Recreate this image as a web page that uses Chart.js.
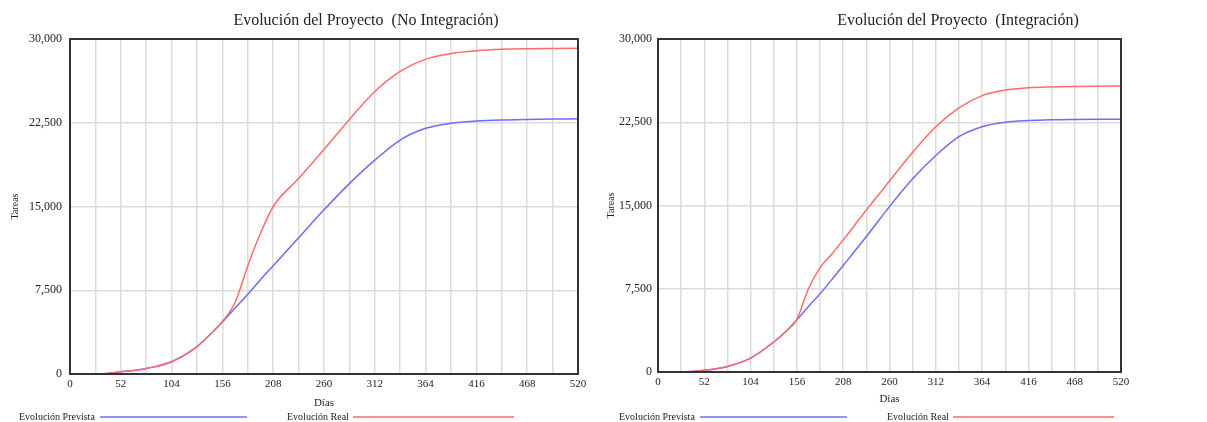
<!DOCTYPE html>
<html>
<head>
<meta charset="utf-8">
<script src="https://cdn.jsdelivr.net/npm/chart.js@4/dist/chart.umd.min.js"></script>
<style>
	body { margin: 0; background: #fff; }
	.box { position: absolute; top: 0; height: 422px; }
	#left { left: 0; width: 600px; }
	#right { left: 600px; width: 607px; }
</style>
</head>
<body>
<div class="box" id="left"><canvas id="chartLeft"></canvas></div>
<div class="box" id="right"><canvas id="chartRight"></canvas></div>
<script>
// días de simulación (eje x)
const days = [0, 26, 52, 78, 104, 130, 143, 156, 169, 182, 195, 208, 234, 260, 286, 312, 338, 364, 390, 416, 442, 468, 494, 520];

// No Integración
const previstaNoInt = [0, 0, 200, 500, 1100, 2450, 3500, 4650, 5900, 7150, 8450, 9700, 12200, 14700, 17050, 19150, 20950, 22000, 22450, 22650, 22750, 22800, 22830, 22850];
const realNoInt = [0, 0, 200, 500, 1100, 2450, 3500, 4700, 6400, 9700, 12600, 15000, 17500, 20100, 22800, 25300, 27100, 28200, 28700, 28950, 29080, 29130, 29150, 29170];

// Integración
const previstaInt = [0, 0, 150, 500, 1250, 2700, 3600, 4700, 5900, 7050, 8300, 9600, 12200, 14900, 17400, 19500, 21200, 22100, 22500, 22650, 22720, 22750, 22770, 22780];
const realInt = [0, 0, 150, 500, 1250, 2700, 3600, 4750, 7500, 9400, 10600, 11900, 14600, 17200, 19800, 22100, 23800, 24900, 25400, 25600, 25680, 25720, 25750, 25770];

const yTicks = [0, 7500, 15000, 22500, 30000];
const seriesNames = ["Evolución Prevista", "Evolución Real"];
const seriesColors = ["#6b6bff", "#ff6b6b"];

const FONT = "'Liberation Serif', 'Times New Roman', serif";
const TEXT = "#222";

const toPoints = (vals) => days.map((d, i) => ({ x: d, y: vals[i] }));

// marco oscuro alrededor del área del gráfico
const framePlugin = {
	id: "frame",
	afterDraw(chart) {
		const { ctx, chartArea: a } = chart;
		ctx.save();
		ctx.strokeStyle = "#333";
		ctx.lineWidth = 2;
		ctx.strokeRect(a.left, a.top, a.right - a.left, a.bottom - a.top);
		ctx.restore();
	},
};

// título centrado en una x dada (no en el canvas)
const plotTitle = {
	id: "plotTitle",
	afterDraw(chart, args, opts) {
		const { ctx } = chart;
		ctx.save();
		ctx.font = "16px " + FONT;
		ctx.fillStyle = TEXT;
		ctx.textAlign = "center";
		ctx.textBaseline = "middle";
		ctx.fillText(opts.text, opts.x, opts.y);
		ctx.restore();
	},
};

// leyenda: texto seguido de la línea
const lineLegend = {
	id: "lineLegend",
	afterDraw(chart, args, opts) {
		const { ctx } = chart;
		ctx.save();
		ctx.font = "10px " + FONT;
		ctx.fillStyle = TEXT;
		ctx.textBaseline = "middle";
		chart.data.datasets.forEach((ds, i) => {
			const it = opts.items[i];
			ctx.fillText(ds.label, it.text, opts.y);
			ctx.strokeStyle = ds.borderColor;
			ctx.lineWidth = 1.5;
			ctx.beginPath();
			ctx.moveTo(it.from, opts.y);
			ctx.lineTo(it.to, opts.y);
			ctx.stroke();
		});
		ctx.restore();
	},
};

function makeChart(id, title, prev, real, lay) {
	const ctx = document.getElementById(id).getContext("2d");
	return new Chart(ctx, {
		type: "line",
		data: {
			datasets: [prev, real].map((vals, i) => ({
				label: seriesNames[i],
				data: toPoints(vals),
				borderColor: seriesColors[i],
				borderWidth: 1.5,
				pointRadius: 0,
				cubicInterpolationMode: "monotone",
			})).reverse(),
		},
		options: {
			responsive: true,
			maintainAspectRatio: false,
			animation: false,
			layout: { padding: { left: 0, right: lay.right, top: 39, bottom: lay.bottom } },
			plugins: {
				legend: { display: false },
				tooltip: { enabled: false },
				title: { display: false },
				plotTitle: { text: title, x: lay.titleX, y: 21 },
				lineLegend: {
					y: 417,
					items: [
						{ text: 287, from: 353, to: 514 },
						{ text: 19, from: 100, to: 247 },
					],
				},
			},
			scales: {
				x: {
					type: "linear",
					min: 0,
					max: 520,
					grid: { color: "#dcdcdc", lineWidth: 1.5, drawTicks: false },
					border: { display: false },
					ticks: {
						stepSize: 26,
						padding: 4,
						color: TEXT,
						font: { family: FONT, size: 11 },
						maxRotation: 0,
						autoSkip: false,
						callback: (v) => (v % 52 === 0 ? v : ""),
					},
					title: {
						display: true,
						text: "Días",
						color: TEXT,
						font: { family: FONT, size: 11 },
						padding: { top: 0, bottom: 0 },
					},
					afterFit: (s) => { s.height = lay.xHeight; },
				},
				y: {
					min: 0,
					max: 30000,
					afterBuildTicks: (s) => { s.ticks = yTicks.map((v) => ({ value: v })); },
					grid: { color: "#dcdcdc", lineWidth: 1.5, drawTicks: false },
					border: { display: false },
					ticks: {
						padding: lay.tickPad,
						color: TEXT,
						font: { family: FONT, size: 12 },
						callback: (v) => v.toLocaleString("en-US"),
					},
					title: {
						display: true,
						text: "Tareas",
						color: TEXT,
						font: { family: FONT, size: 10 },
						padding: { top: lay.titlePad, bottom: 0 },
					},
					afterFit: (s) => { s.width = lay.yWidth; },
				},
			},
		},
		plugins: [framePlugin, plotTitle, lineLegend],
	});
}

makeChart("chartLeft", "Evolución del Proyecto  (No Integración)", previstaNoInt, realNoInt,
	{ right: 22, bottom: 12, xHeight: 36, yWidth: 70, tickPad: 8, titlePad: 9, titleX: 366 });
makeChart("chartRight", "Evolución del Proyecto  (Integración)", previstaInt, realInt,
	{ right: 86, bottom: 16, xHeight: 34, yWidth: 58, tickPad: 6, titlePad: 5, titleX: 358 });
</script>
</body>
</html>
